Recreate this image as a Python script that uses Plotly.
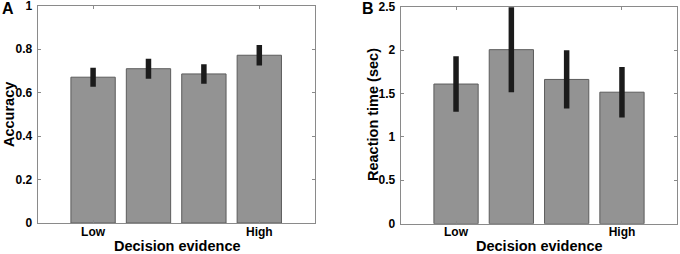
import plotly.graph_objects as go

categories = [1, 2, 3, 4]
acc_values = [0.671, 0.710, 0.686, 0.772]
acc_errors = [0.044, 0.046, 0.045, 0.047]
rt_values = [1.609, 2.005, 1.662, 1.515]
rt_errors = [0.32, 0.49, 0.335, 0.29]
x_tick_vals = [1, 4]
x_tick_text = ["Low", "High"]

FONT = "Liberation Sans, Arial, Helvetica, sans-serif"
BAR_FILL = "#939393"
BAR_LINE = "#5c5c5c"
ERR_COLOR = "#1b1b1b"
FRAME = "#8a8a8a"

fig = go.Figure()
fig.add_trace(go.Bar(
    x=categories, y=acc_values, width=0.8,
    marker=dict(color=BAR_FILL, line=dict(color=BAR_LINE, width=1)),
    error_y=dict(type="data", array=acc_errors, color=ERR_COLOR, thickness=5.5, width=0),
    xaxis="x", yaxis="y", showlegend=False, hoverinfo="skip",
))
fig.add_trace(go.Bar(
    x=categories, y=rt_values, width=0.8,
    marker=dict(color=BAR_FILL, line=dict(color=BAR_LINE, width=1)),
    error_y=dict(type="data", array=rt_errors, color=ERR_COLOR, thickness=5.5, width=0),
    xaxis="x2", yaxis="y2", showlegend=False, hoverinfo="skip",
))

axis_common = dict(
    showline=True, linecolor=FRAME, linewidth=1.2, mirror="ticks",
    ticks="inside", ticklen=3, tickwidth=1, tickcolor=FRAME,
    showgrid=False, zeroline=False, automargin=False,
    ticklabeloverflow="allow",
    tickfont=dict(family=FONT, size=12, color="#000000", weight="bold"),
)

fig.update_layout(
    width=680, height=254,
    margin=dict(l=0, r=0, t=0, b=0),
    paper_bgcolor="white", plot_bgcolor="white",
    xaxis=dict(domain=[0.0554, 0.4628], range=[0, 5], tickvals=x_tick_vals,
               ticktext=x_tick_text, anchor="y", ticklabelstandoff=-3, **axis_common),
    yaxis=dict(domain=[0.1220, 0.9776], range=[0, 1], dtick=0.2, anchor="x",
               ticklabelstandoff=2, **axis_common),
    xaxis2=dict(domain=[0.5893, 0.9960], range=[0, 5], tickvals=x_tick_vals,
                ticktext=x_tick_text, anchor="y2", ticklabelstandoff=-3, **axis_common),
    yaxis2=dict(domain=[0.1193, 0.9736], range=[0, 2.5], dtick=0.5, anchor="x2",
                ticklabelstandoff=2, **axis_common),
)

title_font = dict(family=FONT, size=14.5, color="#000000", weight="bold")
ann = [
    dict(text="Decision evidence", x=177, y=246),
    dict(text="Decision evidence", x=539, y=246),
    dict(text="Accuracy", x=9, y=115, textangle=-90),
    dict(text="Reaction time (sec)", x=373, y=115, textangle=-90),
    dict(text="A", x=7.5, y=8.5, size=16),
    dict(text="B", x=367.5, y=8.5, size=16),
]
for a in ann:
    f = dict(title_font)
    if "size" in a:
        f["size"] = a["size"]
    fig.add_annotation(
        text=a["text"], xref="paper", yref="paper",
        x=a["x"] / 680, y=1 - a["y"] / 254, xanchor="center", yanchor="middle",
        textangle=a.get("textangle", 0), showarrow=False, font=f,
    )

fig.write_html(
    "out.html",
    config={"displayModeBar": False},
    post_script="document.body.style.margin='0';document.body.style.overflow='hidden';",
)
